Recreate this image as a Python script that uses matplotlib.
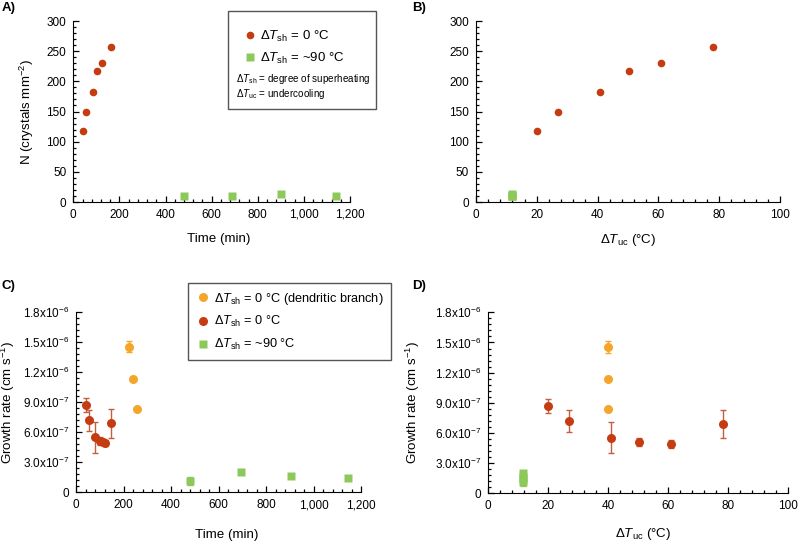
import matplotlib
matplotlib.use("Agg")
import matplotlib.pyplot as plt
from matplotlib.ticker import AutoMinorLocator, MultipleLocator, FixedLocator
from matplotlib.lines import Line2D
from matplotlib.patches import Rectangle
import numpy as np

plt.rcParams['font.family'] = ['Liberation Sans', 'DejaVu Sans']
plt.rcParams['mathtext.fontset'] = 'custom'
plt.rcParams['mathtext.rm'] = 'Liberation Sans'
plt.rcParams['mathtext.it'] = 'Liberation Sans:italic'

RED = '#c63c12'
RED_ERR = '#c4603e'
ORANGE = '#f5a52a'
GREEN = '#8dc85b'

# A / B : crystal density
time_red = [41, 55, 84, 104, 124, 165]
n_red = [117, 149, 182, 217, 231, 257]
dtuc_red = [20.0, 27.0, 40.8, 50.3, 60.9, 78.1]
time_green = [479, 690, 900, 1138]
n_green = [10.4, 9.3, 12.6, 10.4]
dtuc_green = [11.8, 11.8, 11.8, 11.8]

# C : growth rate vs time (x1e-6 cm/s)
time_c_red = [41, 56, 82, 103, 113, 124, 147]
rate_c_red = [0.87, 0.72, 0.55, 0.51, 0.50, 0.49, 0.69]
err_c_red = [0.07, 0.105, 0.158, 0.04, 0.03, 0.03, 0.143]
time_orange = [224, 242, 256]
rate_orange = [1.457, 1.137, 0.837]
err_orange = [0.058, 0.0, 0.0]
time_c_green = [482, 693, 904, 1146]
rate_green = [0.11, 0.20, 0.163, 0.147]
err_green = [0.04, 0.0, 0.0, 0.0]

# D : growth rate vs undercooling
dtuc_d_red = [20.0, 26.8, 40.8, 50.2, 60.9, 78.1]
rate_d_red = [0.868, 0.719, 0.553, 0.507, 0.49, 0.693]
err_d_red = [0.07, 0.11, 0.155, 0.04, 0.04, 0.14]
dtuc_orange = [39.8, 39.8, 39.8]
dtuc_d_green = [11.7, 11.7, 11.7, 11.7]

rate_ticks = [0, 0.3e-6, 0.6e-6, 0.9e-6, 1.2e-6, 1.5e-6, 1.8e-6]
rate_labels = ['0', r'3.0x10$^{-7}$', r'6.0x10$^{-7}$', r'9.0x10$^{-7}$',
               r'1.2x10$^{-6}$', r'1.5x10$^{-6}$', r'1.8x10$^{-6}$']

W, H = 800, 542
TICK_FS = 8.5
LAB_FS = 9.6
fig = plt.figure(figsize=(8, 5.42), dpi=100)


def px_axes(l, r, t, b):
    return fig.add_axes([l / W, 1 - b / H, (r - l) / W, (b - t) / H])


def style(ax):
    for s in ['top', 'right']:
        ax.spines[s].set_visible(False)
    ax.tick_params(which='both', direction='in', labelsize=TICK_FS, width=0.9,
                   pad=5)
    ax.tick_params(which='major', length=4)
    ax.tick_params(which='minor', length=2)
    ax.xaxis.set_minor_locator(AutoMinorLocator(5))
    ax.yaxis.set_minor_locator(AutoMinorLocator(5))


def e6(vals):
    return [v * 1e-6 for v in vals]


dT_sh = r'$\mathit{ΔT}_{\rm sh}$'
dT_uc = r'$\mathit{ΔT}_{\rm uc}$'

# ---- A
axA = px_axes(73.3, 350, 21, 202)
style(axA)
axA.plot(time_red, n_red, 'o', color=RED, ms=5.5, mec='none')
axA.plot(time_green, n_green, 's', color=GREEN, ms=5.5, mec='none')
axA.set_xlim(0, 1200)
axA.set_ylim(0, 300)
axA.xaxis.set_major_locator(MultipleLocator(200))
axA.yaxis.set_major_locator(MultipleLocator(50))
axA.set_xticklabels(['{:,}'.format(int(v)) for v in axA.get_xticks()])
axA.set_xlabel('Time (min)', fontsize=LAB_FS)
axA.xaxis.set_label_coords(0.525, -0.17)
axA.set_ylabel(r'N (crystals mm$^{-2}$)', fontsize=LAB_FS)
axA.yaxis.set_label_coords(-0.135, 0.5)

fig.patches.append(Rectangle((228 / W, 1 - 109 / H), 148 / W, 97.5 / H,
                             transform=fig.transFigure, fill=False,
                             edgecolor='#555555', lw=1))
hA = [Line2D([], [], marker='o', ls='none', color=RED, ms=5.5, mec='none'),
      Line2D([], [], marker='s', ls='none', color=GREEN, ms=5.5, mec='none')]
fig.legend(hA, [dT_sh + ' = 0 °C', dT_sh + ' = ~90 °C'], loc='upper left',
           bbox_to_anchor=(235 / W, 1 - 22 / H), frameon=False, fontsize=9.5,
           handletextpad=0.2, handlelength=1.2, labelspacing=0.55, borderpad=0)
fig.text(236 / W, 1 - 79 / H, dT_sh + ' = degree of superheating',
         fontsize=7.1, va='center')
fig.text(236 / W, 1 - 94 / H, dT_uc + ' = undercooling', fontsize=7.1,
         va='center')

# ---- B
axB = px_axes(476, 780, 21, 202)
style(axB)
axB.plot(dtuc_red, n_red, 'o', color=RED, ms=5.5, mec='none')
axB.plot(dtuc_green, n_green, 's', color=GREEN, ms=5.5, mec='none')
axB.set_xlim(0, 100)
axB.set_ylim(0, 300)
axB.xaxis.set_major_locator(MultipleLocator(20))
axB.yaxis.set_major_locator(MultipleLocator(50))
axB.set_xlabel(dT_uc + ' (°C)', fontsize=LAB_FS)
axB.xaxis.set_label_coords(0.5, -0.165)

# ---- C
axC = px_axes(76, 361, 312.3, 492.3)
style(axC)
axC.errorbar(time_c_red, e6(rate_c_red), yerr=e6(err_c_red), fmt='none',
             ecolor=RED_ERR, elinewidth=1, capsize=2.5, zorder=2)
axC.errorbar(time_orange, e6(rate_orange), yerr=e6(err_orange), fmt='none',
             ecolor=ORANGE, elinewidth=1, capsize=2.5, zorder=2)
axC.errorbar(time_c_green, e6(rate_green), yerr=e6(err_green), fmt='none',
             ecolor=GREEN, elinewidth=1, capsize=2.5, zorder=2)
axC.plot(time_orange, e6(rate_orange), 'o', color=ORANGE, ms=6.5, mec='none',
         zorder=3, label=dT_sh + ' = 0 °C (dendritic branch)')
axC.plot(time_c_red, e6(rate_c_red), 'o', color=RED, ms=6.5, mec='none',
         zorder=3, label=dT_sh + ' = 0 °C')
axC.plot(time_c_green, e6(rate_green), 's', color=GREEN, ms=6, mec='none',
         zorder=3, label=dT_sh + ' = ~90 °C')
axC.set_xlim(0, 1200)
axC.set_ylim(0, 1.8e-6)
axC.xaxis.set_major_locator(MultipleLocator(200))
axC.yaxis.set_major_locator(FixedLocator(rate_ticks))
axC.set_yticklabels(rate_labels)
axC.set_xticklabels(['{:,}'.format(int(v)) for v in axC.get_xticks()])
axC.set_xlabel('Time (min)', fontsize=LAB_FS)
axC.xaxis.set_label_coords(0.53, -0.205)
axC.set_ylabel(r'Growth rate (cm s$^{-1}$)', fontsize=LAB_FS)
axC.yaxis.set_label_coords(-0.207, 0.5)
legC = axC.legend(loc='upper left', bbox_to_anchor=(188 / W, 1 - 283 / H),
                  bbox_transform=fig.transFigure, fontsize=9.2, fancybox=False,
                  edgecolor='#555555', framealpha=1, handletextpad=0.2,
                  handlelength=1.2, labelspacing=0.6, borderpad=0.6,
                  borderaxespad=0)
legC.get_frame().set_linewidth(1)

# ---- D
axD = px_axes(488.3, 788.3, 312.3, 493.3)
style(axD)
axD.errorbar(dtuc_d_red, e6(rate_d_red), yerr=e6(err_d_red), fmt='none',
             ecolor=RED_ERR, elinewidth=1, capsize=2.5, zorder=2)
axD.errorbar(dtuc_orange, e6(rate_orange), yerr=e6(err_orange), fmt='none',
             ecolor=ORANGE, elinewidth=1, capsize=2.5, zorder=2)
axD.errorbar(dtuc_d_green, e6(rate_green), yerr=e6(err_green), fmt='none',
             ecolor=GREEN, elinewidth=1, capsize=2.5, zorder=2)
axD.plot(dtuc_orange, e6(rate_orange), 'o', color=ORANGE, ms=6.5, mec='none',
         zorder=3)
axD.plot(dtuc_d_red, e6(rate_d_red), 'o', color=RED, ms=6.5, mec='none',
         zorder=3)
axD.plot(dtuc_d_green, e6(rate_green), 's', color=GREEN, ms=6, mec='none',
         zorder=3)
axD.set_xlim(0, 100)
axD.set_ylim(0, 1.8e-6)
axD.xaxis.set_major_locator(MultipleLocator(20))
axD.yaxis.set_major_locator(FixedLocator(rate_ticks))
axD.set_yticklabels(rate_labels)
axD.set_xlabel(dT_uc + ' (°C)', fontsize=LAB_FS)
axD.xaxis.set_label_coords(0.517, -0.18)
axD.set_ylabel(r'Growth rate (cm s$^{-1}$)', fontsize=LAB_FS)
axD.yaxis.set_label_coords(-0.222, 0.5)

for lab, x, y in [('A)', 2, 8), ('B)', 412, 8), ('C)', 2, 286), ('D)', 412, 286)]:
    fig.text(x / W, 1 - y / H, lab, fontsize=9.5, fontweight='bold', va='center')

fig.savefig('out.png', dpi=100)
